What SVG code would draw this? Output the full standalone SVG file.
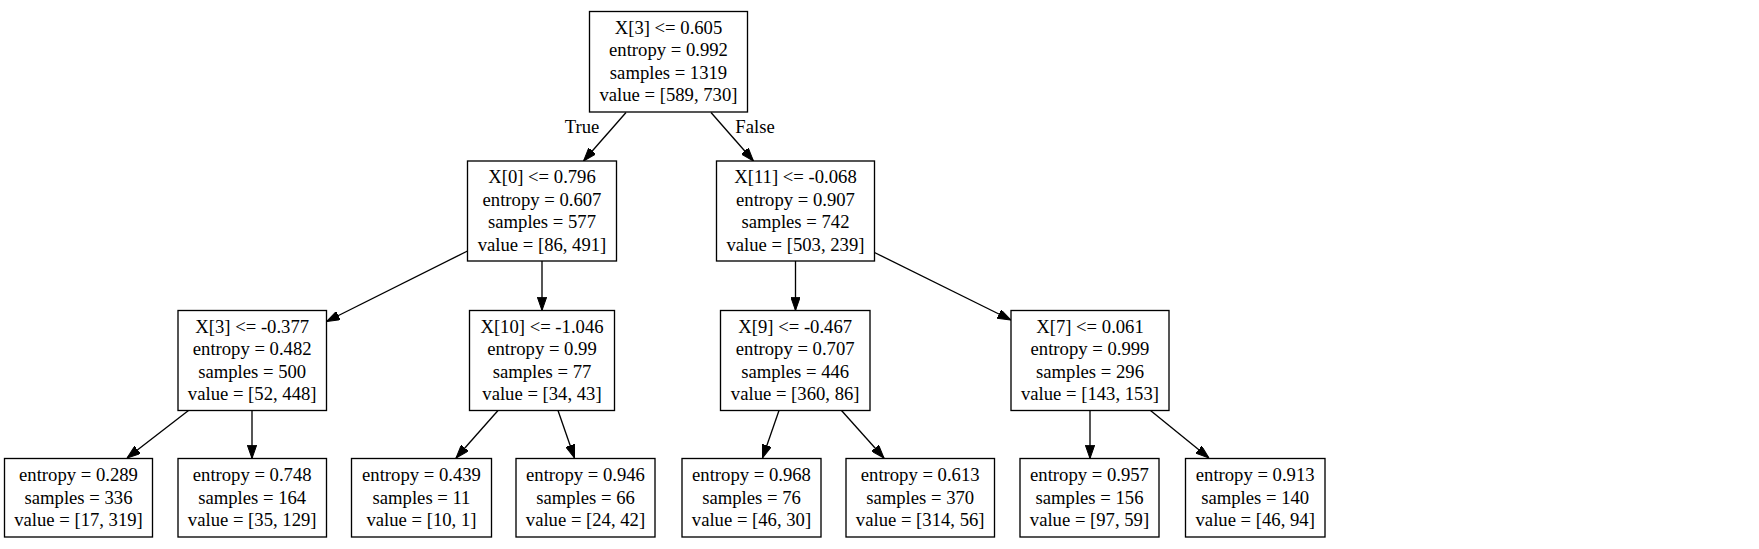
<svg xmlns="http://www.w3.org/2000/svg" width="1759" height="549" viewBox="0 0 1759 549">
<style>
.n rect{fill:#fff;stroke:#000;stroke-width:1.33}
text{font-family:"Liberation Serif","Times New Roman",serif;font-size:18.67px;fill:#000;text-anchor:middle}
.e path{fill:none;stroke:#000;stroke-width:1.33;marker-end:url(#ah)}
</style>
<defs>
<marker id="ah" viewBox="0 0 13.33 9.33" refX="13.33" refY="4.67" markerWidth="13.33" markerHeight="9.33" markerUnits="userSpaceOnUse" orient="auto">
<path d="M0,0 L13.33,4.67 L0,9.33 Z" fill="#000" stroke="#000" stroke-width="1"/>
</marker>
</defs>
<rect width="1759" height="549" fill="#fff"/>
<g class="e" id="edges">
<path d="M626,112.5 L583.5,161"/>
<path d="M711,112.5 L753.5,161"/>
<path d="M467.5,251 L326.5,321.5"/>
<path d="M542,261 L542,310.5"/>
<path d="M795.5,261 L795.5,310.5"/>
<path d="M874.5,252.5 L1011,320"/>
<path d="M188.5,410.5 L127,458"/>
<path d="M252,410.5 L252,458.5"/>
<path d="M498,410.5 L456,458"/>
<path d="M558,410.5 L574.5,458"/>
<path d="M779,410.5 L762.5,458"/>
<path d="M841.5,410.5 L884,458"/>
<path d="M1090,410.5 L1090,458.5"/>
<path d="M1150.5,410.5 L1209,458"/>
</g>
<text x="582" y="133">True</text>
<text x="755" y="133">False</text>
<g class="n" id="n0">
<rect x="589.5" y="11.5" width="158" height="100.5"/>
<text x="668.5" y="33.5">X[3] &lt;= 0.605</text>
<text x="668.5" y="56">entropy = 0.992</text>
<text x="668.5" y="78.5">samples = 1319</text>
<text x="668.5" y="101">value = [589, 730]</text>
</g>
<g class="n" id="n1">
<rect x="467.5" y="161" width="149" height="100"/>
<text x="542" y="183">X[0] &lt;= 0.796</text>
<text x="542" y="205.5">entropy = 0.607</text>
<text x="542" y="228">samples = 577</text>
<text x="542" y="250.5">value = [86, 491]</text>
</g>
<g class="n" id="n2">
<rect x="716.5" y="161" width="158" height="100"/>
<text x="795.5" y="183">X[11] &lt;= -0.068</text>
<text x="795.5" y="205.5">entropy = 0.907</text>
<text x="795.5" y="228">samples = 742</text>
<text x="795.5" y="250.5">value = [503, 239]</text>
</g>
<g class="n" id="n3">
<rect x="178" y="310.5" width="148.5" height="100"/>
<text x="252.2" y="332.5">X[3] &lt;= -0.377</text>
<text x="252.2" y="355">entropy = 0.482</text>
<text x="252.2" y="377.5">samples = 500</text>
<text x="252.2" y="400">value = [52, 448]</text>
</g>
<g class="n" id="n4">
<rect x="469.5" y="310.5" width="145" height="100"/>
<text x="542" y="332.5">X[10] &lt;= -1.046</text>
<text x="542" y="355">entropy = 0.99</text>
<text x="542" y="377.5">samples = 77</text>
<text x="542" y="400">value = [34, 43]</text>
</g>
<g class="n" id="n5">
<rect x="720.5" y="310.5" width="149.5" height="100"/>
<text x="795.2" y="332.5">X[9] &lt;= -0.467</text>
<text x="795.2" y="355">entropy = 0.707</text>
<text x="795.2" y="377.5">samples = 446</text>
<text x="795.2" y="400">value = [360, 86]</text>
</g>
<g class="n" id="n6">
<rect x="1011" y="310.5" width="158" height="100"/>
<text x="1090" y="332.5">X[7] &lt;= 0.061</text>
<text x="1090" y="355">entropy = 0.999</text>
<text x="1090" y="377.5">samples = 296</text>
<text x="1090" y="400">value = [143, 153]</text>
</g>
<g class="n" id="l1">
<rect x="4.5" y="458.5" width="148" height="78.5"/>
<text x="78.5" y="481">entropy = 0.289</text>
<text x="78.5" y="503.5">samples = 336</text>
<text x="78.5" y="526">value = [17, 319]</text>
</g>
<g class="n" id="l2">
<rect x="178" y="458.5" width="148.5" height="78.5"/>
<text x="252.2" y="481">entropy = 0.748</text>
<text x="252.2" y="503.5">samples = 164</text>
<text x="252.2" y="526">value = [35, 129]</text>
</g>
<g class="n" id="l3">
<rect x="351.5" y="458.5" width="140" height="78.5"/>
<text x="421.5" y="481">entropy = 0.439</text>
<text x="421.5" y="503.5">samples = 11</text>
<text x="421.5" y="526">value = [10, 1]</text>
</g>
<g class="n" id="l4">
<rect x="516" y="458.5" width="139" height="78.5"/>
<text x="585.5" y="481">entropy = 0.946</text>
<text x="585.5" y="503.5">samples = 66</text>
<text x="585.5" y="526">value = [24, 42]</text>
</g>
<g class="n" id="l5">
<rect x="682" y="458.5" width="139" height="78.5"/>
<text x="751.5" y="481">entropy = 0.968</text>
<text x="751.5" y="503.5">samples = 76</text>
<text x="751.5" y="526">value = [46, 30]</text>
</g>
<g class="n" id="l6">
<rect x="846" y="458.5" width="148.5" height="78.5"/>
<text x="920.2" y="481">entropy = 0.613</text>
<text x="920.2" y="503.5">samples = 370</text>
<text x="920.2" y="526">value = [314, 56]</text>
</g>
<g class="n" id="l7">
<rect x="1020" y="458.5" width="139" height="78.5"/>
<text x="1089.5" y="481">entropy = 0.957</text>
<text x="1089.5" y="503.5">samples = 156</text>
<text x="1089.5" y="526">value = [97, 59]</text>
</g>
<g class="n" id="l8">
<rect x="1185.5" y="458.5" width="139.5" height="78.5"/>
<text x="1255.2" y="481">entropy = 0.913</text>
<text x="1255.2" y="503.5">samples = 140</text>
<text x="1255.2" y="526">value = [46, 94]</text>
</g>
</svg>
